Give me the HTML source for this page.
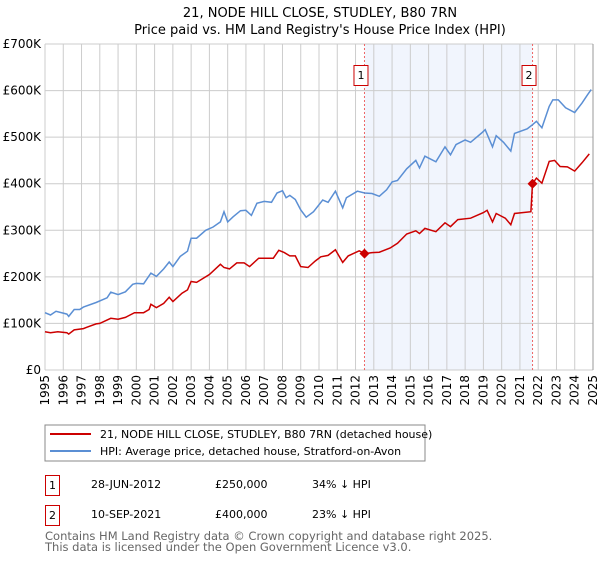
<!DOCTYPE html>
<html><head><meta charset="utf-8"><style>
body{margin:0;background:#fff;}
svg{font-family:"DejaVu Sans","Liberation Sans",sans-serif;}
</style></head><body>
<svg id="chart" width="600" height="560" xmlns="http://www.w3.org/2000/svg">
<text x="320" y="17" text-anchor="middle" font-size="13">21, NODE HILL CLOSE, STUDLEY, B80 7RN</text>
<text x="320" y="34" text-anchor="middle" font-size="13">Price paid vs. HM Land Registry's House Price Index (HPI)</text>
<g id="grid"></g><g id="series"></g>
<rect x="45" y="425" width="380" height="36" fill="none" stroke="#888"/>
<line x1="50" y1="434" x2="91" y2="434" stroke="#cc0000" stroke-width="2"/>
<text x="100" y="438" font-size="11">21, NODE HILL CLOSE, STUDLEY, B80 7RN (detached house)</text>
<line x1="50" y1="451" x2="91" y2="451" stroke="#5b8fd4" stroke-width="2"/>
<text x="100" y="455" font-size="11">HPI: Average price, detached house, Stratford-on-Avon</text>
<rect x="45.5" y="475.5" width="14" height="20" fill="none" stroke="#cc0000"/>
<text x="52.5" y="489" text-anchor="middle" font-size="11">1</text>
<text x="91" y="488" font-size="11">28-JUN-2012</text>
<text x="215" y="488" font-size="11">£250,000</text>
<text x="312" y="488" font-size="11">34% ↓ HPI</text>
<rect x="45.5" y="505.5" width="14" height="20" fill="none" stroke="#cc0000"/>
<text x="52.5" y="519" text-anchor="middle" font-size="11">2</text>
<text x="91" y="518" font-size="11">10-SEP-2021</text>
<text x="215" y="518" font-size="11">£400,000</text>
<text x="312" y="518" font-size="11">23% ↓ HPI</text>
<text x="45" y="540" font-size="11.5" fill="#666">Contains HM Land Registry data © Crown copyright and database right 2025.</text>
<text x="45" y="551" font-size="11.5" fill="#666">This data is licensed under the Open Government Licence v3.0.</text>
</svg>
<script>
const hpiYears=[1995.0,1995.3,1995.6,1996.2,1996.3,1996.6,1996.9,1997.1,1997.8,1998.4,1998.6,1999.0,1999.4,1999.8,2000.0,2000.4,2000.8,2001.1,2001.5,2001.8,2002.0,2002.4,2002.8,2003.0,2003.3,2003.8,2004.2,2004.6,2004.8,2005.0,2005.3,2005.7,2006.0,2006.3,2006.6,2007.0,2007.4,2007.7,2008.0,2008.2,2008.4,2008.7,2009.0,2009.3,2009.7,2010.2,2010.5,2010.9,2011.3,2011.5,2012.1,2012.5,2012.9,2013.3,2013.7,2014.0,2014.3,2014.8,2015.3,2015.5,2015.8,2016.4,2016.9,2017.2,2017.5,2018.0,2018.3,2018.9,2019.1,2019.5,2019.7,2020.1,2020.5,2020.7,2021.4,2021.7,2021.9,2022.2,2022.6,2022.8,2023.1,2023.5,2024.0,2024.4,2024.7,2024.9];
const hpiValues=[123,118,126,120,115,130,130,135,145,155,167,162,168,184,186,185,208,201,217,232,222,244,255,283,283,300,307,318,340,318,329,342,343,332,358,362,360,380,385,370,375,366,344,328,340,365,360,384,348,370,384,380,379,373,387,404,407,432,450,434,459,447,479,462,484,494,489,509,516,479,503,489,470,508,518,527,534,520,566,580,580,563,553,573,591,602];
const priceYears=[1995.0,1995.3,1995.7,1996.2,1996.3,1996.6,1997.1,1997.3,1997.8,1998.0,1998.6,1999.0,1999.4,1999.9,2000.4,2000.7,2000.8,2001.1,2001.5,2001.8,2002.0,2002.5,2002.8,2003.0,2003.3,2004.0,2004.6,2004.8,2005.1,2005.5,2005.9,2006.2,2006.7,2007.1,2007.5,2007.8,2008.1,2008.4,2008.7,2009.0,2009.4,2009.8,2010.1,2010.5,2010.9,2011.3,2011.6,2012.2,2012.5,2012.9,2013.3,2013.9,2014.3,2014.8,2015.3,2015.5,2015.8,2016.4,2016.9,2017.2,2017.6,2018.3,2019.0,2019.2,2019.5,2019.7,2020.2,2020.5,2020.7,2021.6,2021.69,2021.9,2022.2,2022.6,2022.9,2023.2,2023.6,2024.0,2024.4,2024.8];
const priceValues=[82,80,82,80,77,86,89,92,99,100,111,109,113,123,123,130,141,134,143,156,147,165,172,190,188,205,227,220,217,230,230,222,240,240,240,257,252,245,245,222,220,234,243,246,258,231,245,256,250,252,253,262,272,292,299,293,304,297,316,308,323,326,338,343,318,336,326,312,336,340,400,412,401,448,450,437,436,427,445,464];
const saleYears=[2012.49,2021.69];
const saleValues=[250,400];
const saleLabels=["1","2"];
const yTicks=[0,100,200,300,400,500,600,700];
const yTickLabels=["£0","£100K","£200K","£300K","£400K","£500K","£600K","£700K"];
const xTicks=[1995,1996,1997,1998,1999,2000,2001,2002,2003,2004,2005,2006,2007,2008,2009,2010,2011,2012,2013,2014,2015,2016,2017,2018,2019,2020,2021,2022,2023,2024,2025];

const L=45,R=593,T=44,B=370,NS="http://www.w3.org/2000/svg";
const xs=y=>L+(y-1995)/30*(R-L);
const ys=v=>B-v/700*(B-T);
const grid=document.getElementById('grid'),ser=document.getElementById('series');
function mk(tag,attrs,parent,txt){const e=document.createElementNS(NS,tag);for(const k in attrs)e.setAttribute(k,attrs[k]);if(txt!==undefined)e.textContent=txt;parent.appendChild(e);return e;}
let sh=mk('rect',{x:xs(saleYears[0]),y:T,width:xs(saleYears[1])-xs(saleYears[0]),height:B-T,fill:'#eef3fc',opacity:0.8},grid);


yTicks.forEach((v,i)=>{
 let l=mk('line',{x1:L,x2:R,y1:ys(v),y2:ys(v),stroke:'#cccccc'},grid);
 
 
 let t=mk('text',{x:L-4,y:ys(v)+4,'text-anchor':'end','font-size':12},grid,yTickLabels[i]);
 
 
});
xTicks.forEach(y=>{
 let l=mk('line',{x1:xs(y),x2:xs(y),y1:T,y2:B,stroke:'#cccccc'},grid);
 
 
 let t=mk('text',{x:0,y:0,'text-anchor':'end','font-size':12,transform:`translate(${xs(y)+4},${B+5}) rotate(-90)`},grid,String(y));
 
 
});
let ax=mk('line',{x1:R,x2:R,y1:T,y2:B,stroke:'#999'},grid);


saleYears.forEach((y,i)=>{
 let l=mk('line',{x1:xs(y),x2:xs(y),y1:T,y2:B,stroke:'#ee6666','stroke-dasharray':'2,2'},ser);
 
 
 let b=mk('rect',{x:xs(y)-10.5,y:65.5,width:14,height:20,fill:'#fff',stroke:'#cc0000'},ser);
 
 
 let t=mk('text',{x:xs(y)-3.5,y:79,'text-anchor':'middle','font-size':11},ser,saleLabels[i]);
 
 
});
function pts(xa,va){return xa.map((y,i)=>xs(y).toFixed(1)+','+ys(va[i]).toFixed(1)).join(' ');}
let h=mk('polyline',{points:pts(hpiYears,hpiValues),fill:'none',stroke:'#5b8fd4','stroke-width':1.5},ser);


let p=mk('polyline',{points:pts(priceYears,priceValues),fill:'none',stroke:'#cc0000','stroke-width':1.5},ser);


saleYears.forEach((y,i)=>{
 const cx=xs(y),cy=ys(saleValues[i]);
 let d=mk('polygon',{points:`${cx},${cy-5} ${cx+5},${cy} ${cx},${cy+5} ${cx-5},${cy}`,fill:'#cc0000'},ser);
 
 
});
</script>
</body></html>
